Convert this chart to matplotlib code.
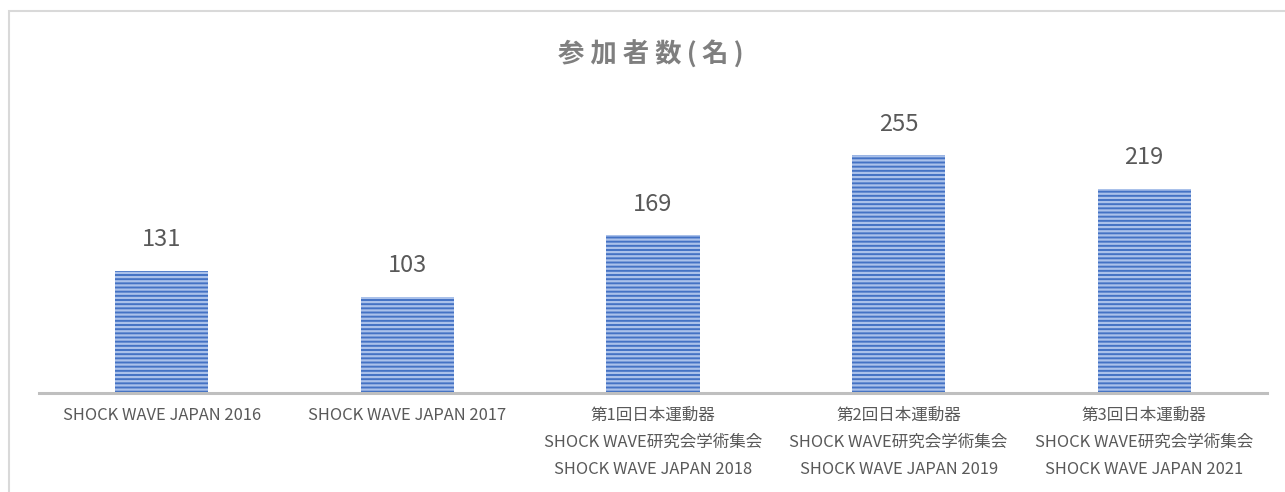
# participants bar chart (参加者数)
import matplotlib
matplotlib.use('Agg')
import matplotlib.pyplot as plt
from matplotlib.patches import Rectangle

plt.rcParams['font.family'] = ['Noto Sans CJK JP', 'DejaVu Sans']
plt.rcParams['hatch.linewidth'] = 1.6

# Data
categories = [
    'SHOCK WAVE JAPAN 2016',
    'SHOCK WAVE JAPAN 2017',
    '第1回日本運動器\nSHOCK WAVE研究会学術集会\nSHOCK WAVE JAPAN 2018',
    '第2回日本運動器\nSHOCK WAVE研究会学術集会\nSHOCK WAVE JAPAN 2019',
    '第3回日本運動器\nSHOCK WAVE研究会学術集会\nSHOCK WAVE JAPAN 2021',
]
participants = [131, 103, 169, 255, 219]
title = '参 加 者 数\u2009(\u2009名\u2009)'

fig = plt.figure(figsize=(12.85, 4.92), dpi=100)
ax = fig.add_axes([39 / 1285, 99 / 492, 1228 / 1285, 280 / 492])

x = range(len(categories))
ax.bar(x, participants, width=0.38, color='#4472c4', edgecolor='#aac1ea',
       linewidth=0, hatch='----')

for xi, v in zip(x, participants):
    ax.annotate(str(v), (xi, v), xytext=(0, 14), textcoords='offset points',
                ha='center', va='bottom', fontsize=17, color='#595959')

ax.set_xlim(-0.5, len(categories) - 0.5)
ax.set_ylim(0, 300)
ax.set_yticks([])
ax.set_xticks(list(x))
ax.set_xticklabels(categories, fontsize=11.9, color='#595959', linespacing=1.78, va='top')
ax.tick_params(axis='x', length=0, pad=10)
for s in ['top', 'left', 'right']:
    ax.spines[s].set_visible(False)
ax.spines['bottom'].set_color('#bfbfbf')
ax.spines['bottom'].set_linewidth(2.2)

fig.text(651 / 1285, 1 - 55 / 492, title, ha='center', va='center',
         fontsize=19, fontweight='bold', color='#7f7f7f')

# chart frame
fig.patches.append(Rectangle((9 / 1285, -0.1), 1.2, (492 - 11) / 492 + 0.1,
                             transform=fig.transFigure, fill=False,
                             edgecolor='#d9d9d9', linewidth=1.5))

fig.savefig('out.png', dpi=100)
